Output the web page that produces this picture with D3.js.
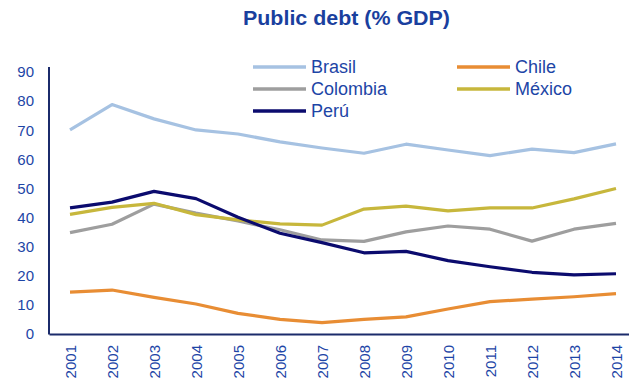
<!DOCTYPE html>
<html><head><meta charset="utf-8">
<script src="https://cdn.jsdelivr.net/npm/d3@7"></script>
<style>body{margin:0;background:#fff;font-family:Arial,"Liberation Sans",sans-serif;}</style>
</head><body><svg id="c" width="629" height="379"></svg>
<script>
const years = ["2001","2002","2003","2004","2005","2006","2007","2008","2009","2010","2011","2012","2013","2014"];
const brasil   = [70.1,78.8,73.9,70.1,68.7,66.0,63.9,62.1,65.2,63.2,61.3,63.5,62.3,65.3];
const chile    = [14.4,15.1,12.6,10.3,7.1,5.0,3.9,5.0,5.9,8.6,11.1,12.0,12.8,13.9];
const colombia = [34.8,37.7,44.6,41.5,38.8,35.8,32.3,31.8,35.1,37.1,36.0,31.9,36.0,38.0];
const mexico   = [41.1,43.5,44.9,41.0,39.2,37.8,37.4,42.9,43.9,42.3,43.3,43.3,46.4,50.0];
const peru     = [43.3,45.3,49.0,46.5,40.1,34.6,31.4,27.9,28.4,25.2,23.1,21.2,20.3,20.7];
const yTicks = [0,10,20,30,40,50,60,70,80,90];
const seriesNames = ["Brasil","Chile","Colombia","México","Perú"];
const seriesColors = ["#A6C2E2","#E88D34","#9E9E9E","#C7B73C","#0B0B6E"];
const seriesData = [brasil, chile, colombia, mexico, peru];

const svg = d3.select("#c");
const txt = "#1D45A6";
const x = d3.scalePoint().domain(years).range([49, 637]).padding(0.5);
const y = d3.scaleLinear().domain([0, 90]).range([334, 72]);

svg.append("text").attr("x", 243).attr("y", 25)
  .attr("font-size", 21).attr("font-weight","bold").attr("fill", "#1A3F9E")
  .attr("textLength", 207).attr("lengthAdjust","spacingAndGlyphs").text("Public debt (% GDP)");

// y axis
const ya = svg.append("g").attr("transform","translate(49,0)")
  .call(d3.axisLeft(y).tickValues(yTicks).tickSize(0).tickPadding(15));
ya.select(".domain").remove();
ya.selectAll("text").attr("fill", txt).attr("font-size", 15).attr("font-family","Arial, 'Liberation Sans', sans-serif");
svg.append("line").attr("x1",49).attr("x2",49).attr("y1",y(90)-5).attr("y2",334.5)
  .attr("stroke","#1B2B6B").attr("stroke-width",2);

// x axis
const xa = svg.append("g").attr("transform","translate(0,334)")
  .call(d3.axisBottom(x).tickSize(0));
xa.select(".domain").attr("stroke","#1B2B6B").attr("stroke-width",2);
xa.selectAll("text").attr("fill", txt).attr("font-size", 15)
  .attr("font-family","Arial, 'Liberation Sans', sans-serif")
  .attr("transform","rotate(-90)").attr("text-anchor","end")
  .attr("x",-11).attr("y",0).attr("dy","0.35em");

const line = d3.line().x((d,i)=>x(years[i])).y(d=>y(d));
seriesData.forEach((s,k)=>{
  svg.append("path").datum(s).attr("d", line).attr("fill","none")
    .attr("stroke", seriesColors[k]).attr("stroke-width", 3.2).attr("stroke-linejoin","round");
});

// legend
const legPos = [[253,67],[457,67],[253,89],[457,89],[253,111]];
seriesNames.forEach((n,k)=>{
  const [lx,ly] = legPos[k];
  svg.append("line").attr("x1",lx).attr("x2",lx+53).attr("y1",ly).attr("y2",ly)
    .attr("stroke",seriesColors[k]).attr("stroke-width",3.5);
  svg.append("text").attr("x",lx+58).attr("y",ly).attr("dy","0.36em")
    .attr("font-size",18).attr("fill",txt).text(n);
});
</script></body></html>
